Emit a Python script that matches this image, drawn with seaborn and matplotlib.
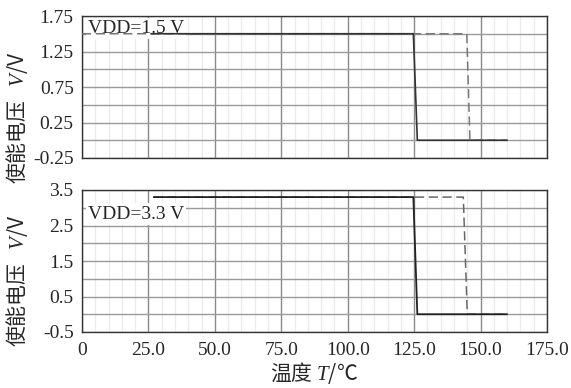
import numpy as np
import pandas as pd
import seaborn as sns
import matplotlib.pyplot as plt
from matplotlib.ticker import MultipleLocator, FixedLocator

# data
temp_top_solid = [26.0, 124.7, 126.2, 160.0]
volt_top_solid = [1.5, 1.5, 0.0, 0.0]
temp_top_dash = [0.0, 144.8, 146.0, 160.0]
volt_top_dash = [1.5, 1.5, 0.0, 0.0]

temp_bot_solid = [27.0, 124.7, 126.2, 160.0]
volt_bot_solid = [3.3, 3.3, 0.0, 0.0]
temp_bot_dash = [27.0, 143.5, 145.0, 160.0]
volt_bot_dash = [3.3, 3.3, 0.0, 0.0]

x_ticks = [0, 25, 50, 75, 100, 125, 150, 175]
x_labels = ["0", "25.0", "50.0", "75.0", "100.0", "125.0", "150.0", "175.0"]
top_yticks = [-0.25, 0.25, 0.75, 1.25, 1.75]
top_ylabels = ["-0.25", "0.25", "0.75", "1.25", "1.75"]
bot_yticks = [-0.5, 0.5, 1.5, 2.5, 3.5]
bot_ylabels = ["-0.5", "0.5", "1.5", "2.5", "3.5"]

sns.set_style("white")
plt.rcParams['font.family'] = ['Liberation Serif', 'Noto Sans CJK SC']
plt.rcParams['mathtext.fontset'] = 'custom'
plt.rcParams['mathtext.it'] = 'Liberation Serif:italic'
plt.rcParams['mathtext.rm'] = 'Liberation Serif'

fig = plt.figure(figsize=(5.71, 3.88), dpi=100)
ax1 = fig.add_axes([82/571, 1-158/388, 465/571, 142/388])
ax2 = fig.add_axes([82/571, 1-332/388, 465/571, 142/388])


def style_axis(ax, yticks, ylabels, ylim, ystep, show_x):
    ax.set_xlim(0, 175)
    ax.set_ylim(*ylim)
    ax.xaxis.set_major_locator(FixedLocator(x_ticks))
    ax.xaxis.set_minor_locator(MultipleLocator(5))
    ax.yaxis.set_major_locator(FixedLocator(yticks))
    ax.yaxis.set_minor_locator(MultipleLocator(ystep))
    ax.set_yticklabels(ylabels)
    if show_x:
        ax.set_xticklabels(x_labels)
        ax.tick_params(axis='x', which='major', length=4, width=0.8, color='#333333',
                       labelsize=14, pad=3)
        ax.tick_params(axis='x', which='minor', length=2, width=0.8, color='#333333')
    else:
        ax.tick_params(axis='x', which='both', length=0, labelbottom=False)
    ax.tick_params(axis='y', which='major', length=4, width=0.8, color='#333333',
                   labelsize=14, pad=2)
    ax.tick_params(axis='y', which='minor', length=4, width=0.8, color='#333333')
    ax.set_axisbelow(True)
    ax.grid(True, axis='x', which='minor', color='#ebebeb', lw=0.9)
    ax.grid(True, axis='x', which='major', color='#8a8a8a', lw=1.0)
    ax.grid(True, axis='y', which='both', color='#9a9a9a', lw=1.0)
    for sp in ax.spines.values():
        sp.set_color('#333333')
        sp.set_linewidth(1.0)
    ax.set_xlabel('')
    ax.set_ylabel('')


sns.lineplot(x=temp_top_dash, y=volt_top_dash, ax=ax1, color='#777777', lw=1.1,
             linestyle=(0, (6, 3)), sort=False, estimator=None, zorder=4)
sns.lineplot(x=temp_top_solid, y=volt_top_solid, ax=ax1, color='#333333', lw=1.2,
             sort=False, estimator=None, zorder=5)
sns.lineplot(x=temp_bot_dash, y=volt_bot_dash, ax=ax2, color='#666666', lw=1.1,
             linestyle=(0, (6, 3)), sort=False, estimator=None, zorder=4)
sns.lineplot(x=temp_bot_solid, y=volt_bot_solid, ax=ax2, color='#222222', lw=1.3,
             sort=False, estimator=None, zorder=5)

style_axis(ax1, top_yticks, top_ylabels, (-0.25, 1.75), 0.25, False)
style_axis(ax2, bot_yticks, bot_ylabels, (-0.5, 3.5), 0.5, True)

ax1.text(0.013, 0.97, "VDD=1.5 V", transform=ax1.transAxes, ha='left', va='top',
         fontsize=14, zorder=3,
         bbox=dict(facecolor='white', edgecolor='none', pad=1.5))
ax2.text(0.013, 0.89, "VDD=3.3 V", transform=ax2.transAxes, ha='left', va='top',
         fontsize=14, zorder=3,
         bbox=dict(facecolor='white', edgecolor='none', pad=1.5))

ax1.set_ylabel("使能电压   $\\mathit{V}$/V", fontsize=15, family='Noto Sans CJK SC')
ax2.set_ylabel("使能电压   $\\mathit{V}$/V", fontsize=15, family='Noto Sans CJK SC')
ax1.yaxis.set_label_coords(-0.112, 0.285)
ax2.yaxis.set_label_coords(-0.112, 0.363)
ax2.set_xlabel("温度 $\\mathit{T}$/℃", fontsize=15, family='Noto Sans CJK SC',
               labelpad=1)

fig.savefig('out.png', dpi=100)
plt.close(fig)
